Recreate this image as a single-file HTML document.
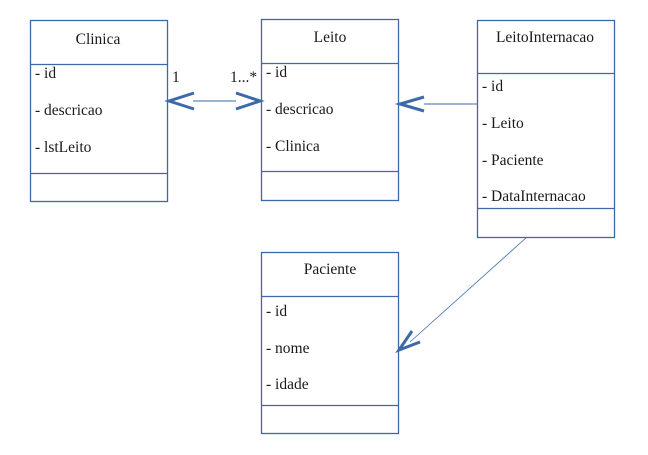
<!DOCTYPE html>
<html><head><style>
body{margin:0;background:#fff;}
svg text{font-family:"Liberation Serif",serif;font-size:15.5px;fill:#1a1a1a;}
</style></head><body>
<svg width="648" height="450" viewBox="0 0 648 450" xmlns="http://www.w3.org/2000/svg">
<g fill="none" stroke="#3e69a8" stroke-width="1.3">
<rect x="30.5" y="20.5" width="137" height="181"/>
<line x1="30" y1="64.5" x2="167" y2="64.5"/>
<line x1="30" y1="173.5" x2="167" y2="173.5"/>
<rect x="261.5" y="19.5" width="137" height="181"/>
<line x1="261" y1="63.5" x2="398" y2="63.5"/>
<line x1="261" y1="171.5" x2="398" y2="171.5"/>
<rect x="477.5" y="20.5" width="137" height="217"/>
<line x1="477" y1="73.5" x2="614" y2="73.5"/>
<line x1="477" y1="208.5" x2="614" y2="208.5"/>
<rect x="261.5" y="252.5" width="137" height="181"/>
<line x1="261" y1="296.5" x2="398" y2="296.5"/>
<line x1="261" y1="405.5" x2="398" y2="405.5"/>
<line x1="193" y1="101" x2="236" y2="101" stroke-width="1"/>
<line x1="424" y1="104" x2="477" y2="104" stroke-width="1"/>
<line x1="527" y1="237" x2="410" y2="342" stroke-width="0.8"/>
</g>
<g fill="none" stroke="#3e69a8" stroke-width="3">
<polyline points="194,93 169,101 194,109"/>
<polyline points="236,93 260,101 236,109"/>
<polyline points="424,97 400,104 424,111"/>
<polyline points="412,331 399,350 420,342"/>
</g>
<text x="98" y="44" text-anchor="middle">Clinica</text>
<text x="330" y="42" text-anchor="middle">Leito</text>
<text x="545" y="42" text-anchor="middle">LeitoInternacao</text>
<text x="330" y="274" text-anchor="middle">Paciente</text>
<text x="35" y="78">- id</text>
<text x="35" y="115">- descricao</text>
<text x="35" y="152">- lstLeito</text>
<text x="266" y="77">- id</text>
<text x="266" y="114">- descricao</text>
<text x="266" y="151">- Clinica</text>
<text x="482" y="91">- id</text>
<text x="482" y="128">- Leito</text>
<text x="482" y="165">- Paciente</text>
<text x="482" y="201">- DataInternacao</text>
<text x="266" y="316">- id</text>
<text x="266" y="353">- nome</text>
<text x="266" y="389">- idade</text>
<text x="172" y="82">1</text>
<text x="230" y="82">1...*</text>
</svg>
</body></html>
